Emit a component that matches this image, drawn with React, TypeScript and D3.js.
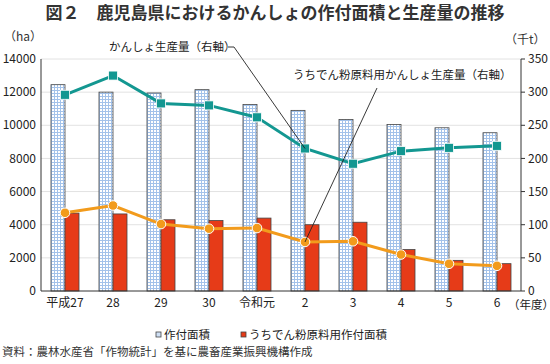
import React from "react";
import * as d3 from "d3";

// data
const years: string[] = ["平成27", "28", "29", "30", "令和元", "2", "3", "4", "5", "6"];
const plantedArea: number[] = [12450, 12000, 11950, 12150, 11250, 10900, 10350, 10050, 9850, 9550];
const starchArea: number[] = [4700, 4650, 4300, 4250, 4400, 4000, 4150, 2500, 1850, 1650];
const production: number[] = [296, 325, 283, 280, 262, 215, 192, 211, 216, 219];
const starchProduction: number[] = [118, 129, 101, 94, 95, 74, 75, 55, 41, 38];
const leftTicks: number[] = [0, 2000, 4000, 6000, 8000, 10000, 12000, 14000];
const rightTicks: number[] = [0, 50, 100, 150, 200, 250, 300, 350];

const FONT = "'Noto Sans CJK JP', 'Noto Sans', sans-serif";

const App: React.FC = () => {
    const width = 550;
    const height = 364;
    const left = 41;
    const right = 521;
    const top = 59;
    const bottom = 291;

    const x = d3.scaleBand<string>().domain(years).range([left, right]).paddingInner(0).paddingOuter(0);
    const inner = d3.scaleBand<string>().domain(["area", "starch"]).range([0, 28]);
    const yL = d3.scaleLinear().domain([0, 14000]).range([bottom, top]);
    const yR = d3.scaleLinear().domain([0, 350]).range([bottom, top]);

    const cx = (i: number) => x(years[i])! + x.bandwidth() / 2;
    const barX = (i: number, key: string) => cx(i) - 14 + inner(key)!;

    const prodLine = d3.line<number>().x((_, i) => cx(i)).y(d => yR(d));

    const teal = "#139791";
    const orange = "#f29b1c";
    const red = "#e63b18";

    return (
        <svg width={width} height={height} style={{ position: "absolute", left: 0, top: 0, background: "#fff" }} fontFamily={FONT}>
            <defs>
                <pattern id="check" width="3" height="3" patternUnits="userSpaceOnUse">
                    <rect width="3" height="3" fill="#ffffff" />
                    <rect width="3" height="1" fill="#a3c2ea" />
                    <rect width="1" height="3" fill="#a3c2ea" />
                </pattern>
            </defs>

            {/* title */}
            <text x={275} y={19} textAnchor="middle" fontSize={17} fontWeight={600} fill="#333">
                図２　鹿児島県におけるかんしょの作付面積と生産量の推移
            </text>

            {/* unit labels */}
            <text x={4} y={41} fontSize={12} fill="#333">（ha）</text>
            <text x={505} y={44} fontSize={12} fill="#333">（千t）</text>

            {/* grid */}
            {leftTicks.filter(t => t > 0).map(t => (
                <line key={`g${t}`} x1={left} x2={right} y1={yL(t)} y2={yL(t)} stroke="#e2e2e2" strokeWidth={1} />
            ))}

            {/* bars */}
            {years.map((yr, i) => (
                <g key={yr}>
                    <rect x={barX(i, "area")} y={yL(plantedArea[i])} width={inner.bandwidth()} height={bottom - yL(plantedArea[i])}
                        fill="url(#check)" stroke="#444" strokeWidth={0.8} />
                    <rect x={barX(i, "starch")} y={yL(starchArea[i])} width={inner.bandwidth()} height={bottom - yL(starchArea[i])}
                        fill={red} stroke="#444" strokeWidth={0.8} />
                </g>
            ))}

            {/* lines */}
            <path d={prodLine(production) ?? ""} fill="none" stroke={teal} strokeWidth={3} />
            <path d={prodLine(starchProduction) ?? ""} fill="none" stroke={orange} strokeWidth={3} />
            {production.map((v, i) => (
                <rect key={`s${i}`} x={cx(i) - 4.5} y={yR(v) - 4.5} width={9} height={9} fill={teal} stroke="#ffffff" strokeWidth={0.8} />
            ))}
            {starchProduction.map((v, i) => (
                <circle key={`c${i}`} cx={cx(i)} cy={yR(v)} r={4.8} fill={orange} stroke="#ffffff" strokeWidth={1} />
            ))}

            {/* axes */}
            <line x1={left} x2={left} y1={top} y2={bottom} stroke="#333" />
            <line x1={right} x2={right} y1={top} y2={bottom} stroke="#333" />
            <line x1={left} x2={right} y1={bottom} y2={bottom} stroke="#333" />
            {rightTicks.map(t => (
                <line key={`rt${t}`} x1={right} x2={right + 4} y1={yR(t)} y2={yR(t)} stroke="#333" />
            ))}
            {leftTicks.map(t => (
                <text key={`lt${t}`} x={36} y={yL(t)} dy="0.35em" textAnchor="end" fontSize={12} fill="#222">{t}</text>
            ))}
            {rightTicks.map(t => (
                <text key={`rl${t}`} x={528} y={yR(t)} dy="0.35em" fontSize={12} fill="#222">{t}</text>
            ))}
            {years.map((yr, i) => (
                <text key={`xl${yr}`} x={cx(i)} y={307} textAnchor="middle" fontSize={12} fill="#222">{yr}</text>
            ))}
            <text x={508} y={309} fontSize={11.5} fill="#222">（年度）</text>

            {/* annotations */}
            <text x={109} y={51} fontSize={11.5} fill="#222">かんしょ生産量（右軸）</text>
            <polyline points={`228,47 234,47 ${cx(5)},${yR(production[5])}`} fill="none" stroke="#222" strokeWidth={0.9} />
            <text x={293} y={79} fontSize={11.5} fill="#222">うちでん粉原料用かんしょ生産量（右軸）</text>
            <line x1={377} y1={88} x2={cx(5)} y2={yR(starchProduction[5])} stroke="#222" strokeWidth={0.9} />

            {/* legend */}
            <rect x={156} y={332} width={5} height={5} fill="#cfe0f5" stroke="#444" strokeWidth={0.8} />
            <text x={164} y={339} fontSize={11.5} fill="#222">作付面積</text>
            <rect x={241} y={332} width={5} height={5} fill={red} stroke="#444" strokeWidth={0.8} />
            <text x={249} y={339} fontSize={11.5} fill="#222">うちでん粉原料用作付面積</text>

            {/* source */}
            <text x={2} y={356} fontSize={11.5} fill="#333">資料：農林水産省「作物統計」を基に農畜産業振興機構作成</text>
        </svg>
    );
};

export default App;
